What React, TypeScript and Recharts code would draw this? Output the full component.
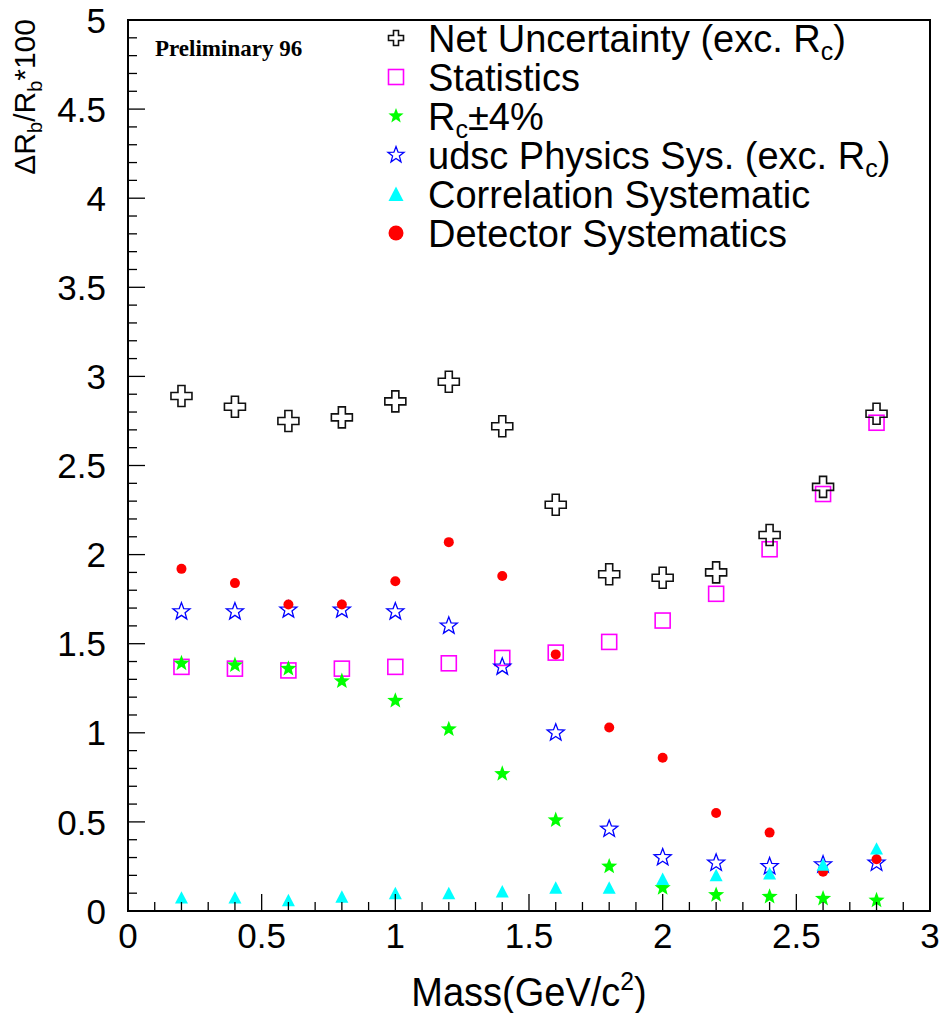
import React from 'react';
import { ScatterChart, Scatter, XAxis, YAxis, ReferenceArea, Legend, Label } from 'recharts';

const FONT = '"Liberation Sans", Arial, Helvetica, sans-serif';
const SERIF = '"Liberation Serif", "Times New Roman", serif';

// ---- data ----
const mass = [0.2, 0.4, 0.6, 0.8, 1.0, 1.2, 1.4, 1.6, 1.8, 2.0, 2.2, 2.4, 2.6, 2.8];
const netUncertainty = [2.89, 2.83, 2.75, 2.77, 2.86, 2.97, 2.72, 2.28, 1.89, 1.87, 1.9, 2.11, 2.38, 2.79];
const statistics = [1.37, 1.36, 1.35, 1.36, 1.37, 1.39, 1.42, 1.45, 1.51, 1.63, 1.78, 2.03, 2.34, 2.74];
const rcVariation = [1.39, 1.38, 1.36, 1.29, 1.18, 1.02, 0.77, 0.51, 0.25, 0.13, 0.09, 0.08, 0.07, 0.06];
const udscPhysics = [1.68, 1.68, 1.69, 1.69, 1.68, 1.6, 1.37, 1.0, 0.46, 0.3, 0.27, 0.25, 0.26, 0.27];
const correlation = [0.075, 0.075, 0.06, 0.08, 0.1, 0.1, 0.11, 0.13, 0.13, 0.18, 0.2, 0.21, 0.26, 0.35];
const detector = [1.92, 1.84, 1.72, 1.72, 1.85, 2.07, 1.88, 1.44, 1.03, 0.86, 0.55, 0.44, 0.22, 0.29];

const xTicks = [0, 0.1, 0.2, 0.3, 0.4, 0.5, 0.6, 0.7, 0.8, 0.9, 1, 1.1, 1.2, 1.3, 1.4, 1.5, 1.6, 1.7, 1.8, 1.9, 2, 2.1, 2.2, 2.3, 2.4, 2.5, 2.6, 2.7, 2.8, 2.9, 3];
const yTicks = Array.from({ length: 51 }, (_, i) => i / 10);
const xTitle = 'Mass(GeV/c';
const yTitle = 'ΔR';
const stampText = 'Preliminary 96';

const toPoints = (vals: number[]) => mass.map((m, i) => ({ x: m, y: vals[i] }));

// ---- markers ----
const starPts = (cx: number, cy: number, R: number, r: number) => {
  const pts: string[] = [];
  for (let i = 0; i < 10; i++) {
    const a = -Math.PI / 2 + (i * Math.PI) / 5;
    const rad = i % 2 === 0 ? R : r;
    pts.push(`${cx + rad * Math.cos(a)},${cy + rad * Math.sin(a)}`);
  }
  return pts.join(' ');
};

const CrossM = ({ cx, cy, s = 21 }: any) => {
  const h = s / 2;
  const a = s / 6;
  const p = [
    [-a, -h], [a, -h], [a, -a], [h, -a], [h, a], [a, a], [a, h], [-a, h], [-a, a], [-h, a], [-h, -a], [-a, -a],
  ].map(([dx, dy]) => `${cx + dx},${cy + dy}`).join(' ');
  return <polygon points={p} fill="none" stroke="#111" strokeWidth={1.6} />;
};
const SquareM = ({ cx, cy, s = 15 }: any) => (
  <rect x={cx - s / 2} y={cy - s / 2} width={s} height={s} fill="none" stroke="#ff00ff" strokeWidth={1.6} />
);
const FStarM = ({ cx, cy, s = 8.5 }: any) => <polygon points={starPts(cx, cy, s, s * 0.42)} fill="#00ff00" />;
const OStarM = ({ cx, cy, s = 9 }: any) => (
  <polygon points={starPts(cx, cy, s, s * 0.42)} fill="none" stroke="#0000ff" strokeWidth={1.3} />
);
const TriM = ({ cx, cy, s = 6.5 }: any) => (
  <polygon points={`${cx},${cy - s} ${cx + s},${cy + s * 0.92} ${cx - s},${cy + s * 0.92}`} fill="#00ffff" />
);
const CircM = ({ cx, cy, s = 5 }: any) => <circle cx={cx} cy={cy} r={s} fill="#ff0000" />;

type Part = { t: string; sub?: boolean };
const series = [
  { key: 'net', data: netUncertainty, M: CrossM, legendSize: 15, label: [{ t: 'Net Uncertainty (exc. R' }, { t: 'c', sub: true }, { t: ')' }] as Part[] },
  { key: 'stat', data: statistics, M: SquareM, legendSize: 15, label: [{ t: 'Statistics' }] as Part[] },
  { key: 'rc', data: rcVariation, M: FStarM, legendSize: 8, label: [{ t: 'R' }, { t: 'c', sub: true }, { t: '±4%' }] as Part[] },
  { key: 'udsc', data: udscPhysics, M: OStarM, legendSize: 8.5, label: [{ t: 'udsc Physics Sys. (exc. R' }, { t: 'c', sub: true }, { t: ')' }] as Part[] },
  { key: 'corr', data: correlation, M: TriM, legendSize: 7.5, label: [{ t: 'Correlation Systematic' }] as Part[] },
  { key: 'det', data: detector, M: CircM, legendSize: 7.5, label: [{ t: 'Detector Systematics' }] as Part[] },
];
const drawOrder = ['stat', 'rc', 'udsc', 'det', 'corr', 'net'];

const isMajor = (v: number) => Math.abs(v * 2 - Math.round(v * 2)) < 1e-6;
const fmt = (v: number) => String(Math.round(v * 10) / 10);

const YTick = (props: any) => {
  const { x, y, payload } = props;
  const v = payload.value;
  const major = isMajor(v);
  return (
    <g>
      <line x1={x} x2={x + (major ? 17 : 9)} y1={y} y2={y} stroke="#000" strokeWidth={1.3} />
      {major && (
        <text x={x - 22} y={y} dy="0.36em" textAnchor="end" fontFamily={FONT} fontSize={35} fill="#000">
          {fmt(v)}
        </text>
      )}
    </g>
  );
};

const XTick = (props: any) => {
  const { x, y, payload } = props;
  const v = payload.value;
  const major = isMajor(v);
  return (
    <g>
      <line x1={x} x2={x} y1={y} y2={y - (major ? 17 : 9)} stroke="#000" strokeWidth={1.3} />
      {major && (
        <text x={x} y={y + 37} textAnchor="middle" fontFamily={FONT} fontSize={35} fill="#000">
          {fmt(v)}
        </text>
      )}
    </g>
  );
};

const XTitle = (props: any) => {
  const vb = props.viewBox || {};
  const cx = (vb.x ?? 128) + (vb.width ?? 802) / 2;
  return (
    <g transform={`translate(${cx},1006) scale(0.95,1)`}>
      <text x={0} y={0} textAnchor="middle" fontFamily={FONT} fontSize={40} fill="#000">
        {xTitle}
        <tspan dy={-16} fontSize={26}>2</tspan>
        <tspan dy={16}>)</tspan>
      </text>
    </g>
  );
};

const YTitle = () => (
  <text transform="rotate(-90)" x={-19} y={35} textAnchor="end" fontFamily={FONT} fontSize={30} fill="#000">
    {yTitle}
    <tspan dy={7} fontSize={20}>b</tspan>
    <tspan dy={-7}>/R</tspan>
    <tspan dy={7} fontSize={20}>b</tspan>
    <tspan dy={-7}>*100</tspan>
  </text>
);

const LegendBox = () => (
  <svg width={942} height={270} style={{ display: 'block' }}>
    <text x={155} y={56} fontFamily={SERIF} fontWeight="bold" fontSize={23} fill="#000">
      {stampText}
    </text>
    {series.map((s, i) => {
      const base = 52 + i * 39;
      const M = s.M;
      return (
        <g key={s.key}>
          <M cx={396} cy={base - 14} s={s.legendSize} />
          <text x={428} y={base} fontFamily={FONT} fontSize={38} fill="#000">
            {s.label.map((p, j) => {
              const prev = j > 0 ? s.label[j - 1] : null;
              const dy = p.sub ? 8 : prev && prev.sub ? -8 : 0;
              return (
                <tspan key={j} dy={dy} fontSize={p.sub ? 25 : 38}>
                  {p.t}
                </tspan>
              );
            })}
          </text>
        </g>
      );
    })}
  </svg>
);

export default function App() {
  const ordered = drawOrder.map((k) => series.find((s) => s.key === k)!);
  return (
    <div style={{ position: 'absolute', left: 0, top: 0, width: 942, height: 1013, background: '#fff' }}>
      <ScatterChart width={942} height={1013} margin={{ top: 20, right: 12, bottom: 0, left: 0 }}>
        <XAxis
          type="number"
          dataKey="x"
          domain={[0, 3]}
          ticks={xTicks}
          interval={0}
          tickSize={0}
          tickMargin={0}
          axisLine={false}
          tickLine={false}
          tick={<XTick />}
          height={102}
          allowDataOverflow
        >
          <Label content={<XTitle />} />
        </XAxis>
        <YAxis
          type="number"
          dataKey="y"
          domain={[0, 5]}
          ticks={yTicks}
          interval={0}
          tickSize={0}
          tickMargin={0}
          axisLine={false}
          tickLine={false}
          tick={<YTick />}
          width={128}
          allowDataOverflow
        >
          <Label content={<YTitle />} />
        </YAxis>
        <ReferenceArea x1={0} x2={3} y1={0} y2={5} fill="none" stroke="#000" strokeWidth={2} ifOverflow="visible" />
        {ordered.map((s) => {
          const M = s.M;
          return (
            <Scatter
              key={s.key}
              name={s.key}
              data={toPoints(s.data)}
              isAnimationActive={false}
              shape={(p: any) => <M cx={p.cx} cy={p.cy} />}
            />
          );
        })}
        <Legend
          layout="vertical"
          align="center"
          verticalAlign="middle"
          wrapperStyle={{ position: 'absolute', left: 0, top: 0, width: 942, height: 270, pointerEvents: 'none' }}
          content={<LegendBox />}
        />
      </ScatterChart>
    </div>
  );
}
